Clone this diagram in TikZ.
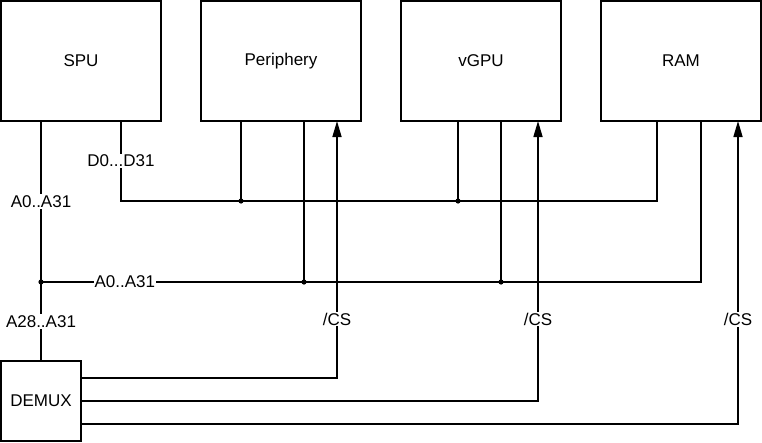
\documentclass[tikz,border=0pt]{standalone}
\usepackage{fontspec}
\setmainfont{Liberation Sans}
\usetikzlibrary{arrows.meta, positioning}
\tikzset{>={Triangle[width=9pt,length=16pt]}}
\tikzset{
  blk/.style={draw, line width=1.6pt, minimum width=160pt, minimum height=120pt, inner sep=0pt, outer sep=0pt},
  lbl/.style={fill=white, inner sep=1pt, font=\fontsize{17}{19}\selectfont},
  wire/.style={line width=1.6pt}
}
\begin{document}
\begin{tikzpicture}[x=1pt, y=-1pt, font=\fontsize{17}{19}\selectfont]
				\useasboundingbox (0,0) rectangle (762,442);
				\draw (81,61) node (spu) [blk] {SPU};
				\draw (281,61) node (per) [blk] {Periphery};
				\draw (481,61) node (gpu) [blk] {vGPU};
				\draw (681,61) node (ram) [blk] {RAM};
				\draw (41,401) node (demux) [blk, minimum width=80pt, minimum height=80pt] {DEMUX};

				% data bus
				\coordinate (d0) at (121,201);
				\coordinate (d1) at (241,201);
				\coordinate (d2) at (458,201);
				\coordinate (d3) at (657,201);
				\draw [wire] (spu.south -| d0) -- node [lbl] {D0...D31} (d0) -- (d3) -- (ram.south -| d3);
				\draw [wire] (per.south -| d1) -- (d1);
				\draw [wire] (gpu.south -| d2) -- (d2);

				% address bus
				\coordinate (a0) at (41,282);
				\coordinate (a1) at (304,282);
				\coordinate (a2) at (501,282);
				\coordinate (a3) at (701,282);
				\draw [wire] (spu.south -| a0) -- node [lbl] {A0..A31} (a0) -- node [lbl] {A28..A31} (demux.north);
				\draw [wire] (a0) -- node [lbl, pos=0.127] {A0..A31} (a3) -- (ram.south -| a3);
				\draw [wire] (per.south -| a1) -- (a1);
				\draw [wire] (gpu.south -| a2) -- (a2);

				\foreach \j in {d1,d2,a0,a1,a2}
					\fill (\j) circle (2.6pt);

				% chip select
				\coordinate (c1) at (337,378);
				\coordinate (c2) at (538,401);
				\coordinate (c3) at (738,424);
				\draw [wire, ->] (demux.east |- c1) -- (c1) -- node [lbl, pos=0.229] {/CS} (per.south -| c1);
				\draw [wire, ->] (demux.east |- c2) -- (c2) -- node [lbl, pos=0.292] {/CS} (gpu.south -| c2);
				\draw [wire, ->] (demux.east |- c3) -- (c3) -- node [lbl, pos=0.345] {/CS} (ram.south -| c3);
			\end{tikzpicture}
\end{document}
